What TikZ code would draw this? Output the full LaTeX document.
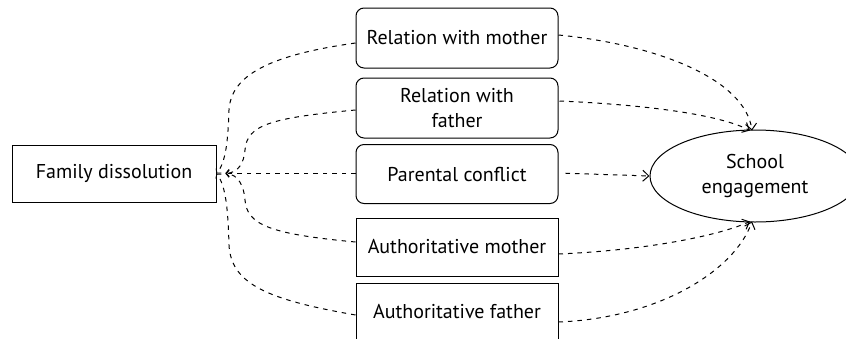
\documentclass[tikz,border=0pt]{standalone}
\usepackage{fontspec}
\setmainfont{PT Sans}
\usetikzlibrary{arrows.meta,shapes.geometric,calc}
\tikzset{
  box/.style={draw=black, line width=1pt, minimum width=202pt, align=center, inner sep=0pt, font=\fontsize{20}{24.5}\selectfont},
  rbox/.style={box, rounded corners=8pt},
  lnk/.style={draw=black, line width=1pt, dash pattern=on 4.5pt off 5pt},
  tipL/.style={lnk, -{Straight Barb[length=3pt,width=7pt,line width=0.9pt]}},
  tipR/.style={lnk, -{Straight Barb[length=6pt,width=11pt,line width=1pt]}},
}
\begin{document}
\begin{tikzpicture}[x=1pt,y=-1pt]
\clip (0,0) rectangle (846,338);
\fill[white] (0,0) rectangle (846,338);
\node[box, minimum width=204pt, minimum height=57pt] (fam) at (114,173.5) {Family dissolution};
\node[rbox, minimum height=60pt] (b1) at (457,38) {Relation with mother};
\node[rbox, minimum height=60pt] (b2) at (457,108) {Relation with\\father};
\node[rbox, minimum height=59pt] (b3) at (457,174) {Parental conflict};
\node[box, minimum height=58pt] (b4) at (457,247) {Authoritative mother};
\node[box, minimum height=58pt] (b5) at (457,312) {Authoritative father};
\node[draw=black, line width=1pt, ellipse, minimum width=210pt, minimum height=92pt, inner sep=0pt, align=center, font=\fontsize{20}{24.5}\selectfont] (se) at (755,176) {School\\engagement};
% left side
\draw[tipL] ($(b1.west)+(0,5)$) .. controls (270,55) and (231,75) .. (229,110) .. controls (228,140) and (226,162) .. (fam.east);
\draw[tipL, shorten >=9pt] ($(b2.west)+(0,2)$) .. controls (270,118) and (247,125) .. (245,150) .. controls (244,163) and (238,173) .. (fam.east);
\draw[tipL, shorten >=9pt] ($(b3.west)+(0,-1)$) -- ($(fam.east)+(0,-0.5)$);
\draw[tipL, shorten >=9pt] ($(b4.west)+(0,-5)$) .. controls (270,234) and (247,225) .. (245,200) .. controls (244,186) and (238,174) .. (fam.east);
\draw[tipL] ($(b5.west)+(0,3)$) .. controls (270,300) and (231,285) .. (229,245) .. controls (228,210) and (226,186) .. (fam.east);
% right side
\draw[tipR] ($(b1.east)+(0,-3)$) .. controls (660,45) and (745,80) .. ($(se.north)+(-3,1)$);
\draw[tipR] ($(b2.east)+(1,-7)$) .. controls (650,105) and (720,115) .. ($(se.north)+(-5,1)$);
\draw[tipR, shorten <=7pt] ($(b3.east)+(0,-1)$) -- (se.west);
\draw[tipR] ($(b4.east)+(0,7)$) .. controls (650,250) and (720,235) .. ($(se.south)+(-5,-1)$);
\draw[tipR] ($(b5.east)+(0,10)$) .. controls (660,318) and (735,270) .. ($(se.south)+(-3,-1)$);
\end{tikzpicture}
\end{document}
